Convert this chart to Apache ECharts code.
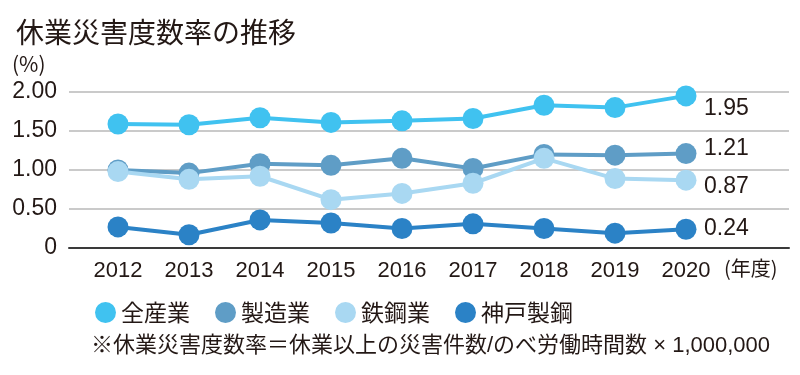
<!DOCTYPE html>
<html>
<head>
<meta charset="utf-8">
<script src="https://cdn.jsdelivr.net/npm/echarts@6/dist/echarts.min.js"></script>
<style>
  html, body { margin: 0; padding: 0; background: #fff; }
  #chart { width: 800px; height: 375px; }
</style>
</head>
<body>
<div id="chart"></div>
<script>
const years = ["2012", "2013", "2014", "2015", "2016", "2017", "2018", "2019", "2020"];
const seriesNames = ["全産業", "製造業", "鉄鋼業", "神戸製鋼"];
const allIndustry = [1.59, 1.58, 1.67, 1.61, 1.63, 1.66, 1.83, 1.80, 1.95];
const manufacturing = [1.00, 0.96, 1.08, 1.06, 1.15, 1.02, 1.20, 1.19, 1.21];
const steel = [0.98, 0.88, 0.92, 0.62, 0.70, 0.83, 1.15, 0.89, 0.87];
const kobeSteel = [0.27, 0.17, 0.36, 0.32, 0.25, 0.31, 0.25, 0.19, 0.24];
const yTicks = [0, 0.5, 1.0, 1.5, 2.0];

const colors = ["#40c2f0", "#5f9dc6", "#a9d8f2", "#2b82c6"];
const textColor = "#231815";
const latin = "'Liberation Sans', 'Noto Sans CJK JP', sans-serif";
const cjk = "'Noto Sans CJK JP', sans-serif";

// per-series vertical nudge for the value written after 2020
const endOffsets = [13, -5, 7, -1];

const chart = echarts.init(document.getElementById("chart"));

const yAxisBase = {
  type: "value",
  min: yTicks[0],
  max: yTicks[yTicks.length - 1],
  interval: 0.5,
};

const makeSeries = (name, data, i) => ({
  name,
  type: "line",
  xAxisIndex: 1,
  yAxisIndex: 1,
  data,
  symbol: "circle",
  symbolSize: 21,
  lineStyle: { width: 4, color: colors[i] },
  itemStyle: { color: colors[i] },
  emphasis: { disabled: true },
  endLabel: {
    show: true,
    distance: 18,
    offset: [0, endOffsets[i]],
    fontSize: 23,
    fontFamily: latin,
    color: textColor,
    formatter: (p) => Number(p.value).toFixed(2),
  },
});

chart.setOption({
  animation: false,
  textStyle: { fontFamily: latin },
  title: {
    text: "休業災害度数率の推移",
    left: 11,
    top: 13,
    textStyle: { fontSize: 28, fontWeight: "normal", fontFamily: cjk, color: textColor },
  },
  legend: {
    data: seriesNames,
    icon: "circle",
    left: 90,
    top: 296,
    itemWidth: 21,
    itemHeight: 21,
    itemGap: 25,
    textStyle: { fontSize: 23, fontFamily: cjk, color: textColor },
  },
  grid: [
    { left: 69, right: 11, top: 92, height: 156 },
    { left: 82.5, width: 639, top: 92, height: 156 },
  ],
  xAxis: [
    {
      type: "category",
      gridIndex: 0,
      data: years,
      axisLine: { lineStyle: { color: "#3a3a3a", width: 2 } },
      axisTick: { show: false },
      axisLabel: { show: false },
    },
    {
      type: "category",
      gridIndex: 1,
      data: years,
      boundaryGap: true,
      axisLine: { show: false },
      axisTick: { show: false },
      axisLabel: { fontSize: 22, color: textColor, margin: 12, fontFamily: latin },
    },
  ],
  yAxis: [
    {
      ...yAxisBase,
      gridIndex: 0,
      axisLine: { show: false },
      axisTick: { show: false },
      splitLine: { lineStyle: { color: "#b8b8b8", width: 1.5 } },
      axisLabel: {
        fontSize: 23,
        color: textColor,
        margin: 12,
        fontFamily: latin,
        formatter: (v) => (v === 0 ? "0" : v.toFixed(2)),
      },
    },
    {
      ...yAxisBase,
      gridIndex: 1,
      show: false,
    },
  ],
  graphic: [
    {
      type: "text",
      left: 12,
      top: 54,
      style: { text: "(%)", fontSize: 21, fontFamily: cjk, fill: textColor },
    },
    {
      type: "text",
      left: 724,
      top: 258,
      style: { text: "(年度)", fontSize: 20, fontFamily: cjk, fill: textColor },
    },
    {
      type: "text",
      left: 91,
      top: 335,
      style: {
        text: "※休業災害度数率＝休業以上の災害件数/のべ労働時間数 × 1,000,000",
        fontSize: 22,
        fontFamily: latin,
        fill: textColor,
      },
    },
  ],
  series: [
    makeSeries(seriesNames[0], allIndustry, 0),
    makeSeries(seriesNames[1], manufacturing, 1),
    makeSeries(seriesNames[2], steel, 2),
    makeSeries(seriesNames[3], kobeSteel, 3),
  ],
});
</script>
</body>
</html>
